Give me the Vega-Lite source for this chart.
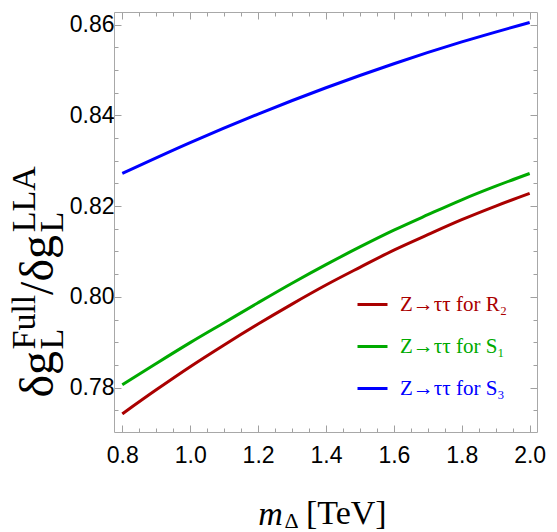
{
  "$schema": "https://vega.github.io/schema/vega-lite/v6.json",
  "width": 423,
  "height": 420,
  "autosize": "none",
  "padding": {"left": 114, "top": 12, "right": 20, "bottom": 100},
  "background": "white",
  "config": {
    "view": {"stroke": null},
    "axis": {
      "grid": false,
      "domainColor": "#a8a8a8",
      "domainWidth": 1,
      "tickColor": "#a0a0a0",
      "tickWidth": 1,
      "labelFont": "Liberation Sans",
      "labelFontSize": 23,
      "labelFontWeight": "normal",
      "labelColor": "black",
      "labelOverlap": false,
      "labelFlush": false,
      "titleColor": "black",
      "titleFont": "Liberation Serif",
      "titleFontWeight": "normal"
    }
  },
  "title": {
    "text": "[TeV]",
    "orient": "bottom",
    "anchor": "start",
    "frame": "group",
    "font": "Liberation Serif",
    "fontSize": 34,
    "fontWeight": "normal",
    "color": "black",
    "baseline": "alphabetic",
    "offset": 0,
    "dx": 192,
    "dy": -7
  },
  "datasets": {
    "curves": [
      {"m_TeV": 0.8, "ratio": 0.7742, "model": "Z→ττ for R₂"},
      {"m_TeV": 0.9, "ratio": 0.7795, "model": "Z→ττ for R₂"},
      {"m_TeV": 1.0, "ratio": 0.7846, "model": "Z→ττ for R₂"},
      {"m_TeV": 1.1, "ratio": 0.7894, "model": "Z→ττ for R₂"},
      {"m_TeV": 1.2, "ratio": 0.7940, "model": "Z→ττ for R₂"},
      {"m_TeV": 1.3, "ratio": 0.7984, "model": "Z→ττ for R₂"},
      {"m_TeV": 1.4, "ratio": 0.8026, "model": "Z→ττ for R₂"},
      {"m_TeV": 1.5, "ratio": 0.8065, "model": "Z→ττ for R₂"},
      {"m_TeV": 1.6, "ratio": 0.8103, "model": "Z→ττ for R₂"},
      {"m_TeV": 1.7, "ratio": 0.8137, "model": "Z→ττ for R₂"},
      {"m_TeV": 1.8, "ratio": 0.8170, "model": "Z→ττ for R₂"},
      {"m_TeV": 1.9, "ratio": 0.8200, "model": "Z→ττ for R₂"},
      {"m_TeV": 2.0, "ratio": 0.8228, "model": "Z→ττ for R₂"},
      {"m_TeV": 0.8, "ratio": 0.7806, "model": "Z→ττ for S₁"},
      {"m_TeV": 0.9, "ratio": 0.7853, "model": "Z→ττ for S₁"},
      {"m_TeV": 1.0, "ratio": 0.7899, "model": "Z→ττ for S₁"},
      {"m_TeV": 1.1, "ratio": 0.7943, "model": "Z→ττ for S₁"},
      {"m_TeV": 1.2, "ratio": 0.7987, "model": "Z→ττ for S₁"},
      {"m_TeV": 1.3, "ratio": 0.8030, "model": "Z→ττ for S₁"},
      {"m_TeV": 1.4, "ratio": 0.8071, "model": "Z→ττ for S₁"},
      {"m_TeV": 1.5, "ratio": 0.8110, "model": "Z→ττ for S₁"},
      {"m_TeV": 1.6, "ratio": 0.8147, "model": "Z→ττ for S₁"},
      {"m_TeV": 1.7, "ratio": 0.8181, "model": "Z→ττ for S₁"},
      {"m_TeV": 1.8, "ratio": 0.8214, "model": "Z→ττ for S₁"},
      {"m_TeV": 1.9, "ratio": 0.8244, "model": "Z→ττ for S₁"},
      {"m_TeV": 2.0, "ratio": 0.8272, "model": "Z→ττ for S₁"},
      {"m_TeV": 0.8, "ratio": 0.8272, "model": "Z→ττ for S₃"},
      {"m_TeV": 1.0, "ratio": 0.8340, "model": "Z→ττ for S₃"},
      {"m_TeV": 1.2, "ratio": 0.8403, "model": "Z→ττ for S₃"},
      {"m_TeV": 1.4, "ratio": 0.8461, "model": "Z→ττ for S₃"},
      {"m_TeV": 1.6, "ratio": 0.8514, "model": "Z→ττ for S₃"},
      {"m_TeV": 1.8, "ratio": 0.8562, "model": "Z→ττ for S₃"},
      {"m_TeV": 2.0, "ratio": 0.8605, "model": "Z→ττ for S₃"}
    ]
  },
  "layer": [
    {
      "data": {"name": "curves"},
      "mark": {"type": "line", "strokeWidth": 3, "interpolate": "monotone"},
      "encoding": {
        "x": {
          "field": "m_TeV",
          "type": "quantitative",
          "scale": {"domain": [0.7756, 2.0216], "nice": false, "zero": false},
          "axis": {
            "orient": "bottom",
            "values": [0.8, 0.85, 0.9, 0.95, 1.0, 1.05, 1.1, 1.15, 1.2, 1.25, 1.3, 1.35, 1.4, 1.45, 1.5, 1.55, 1.6, 1.65, 1.7, 1.75, 1.8, 1.85, 1.9, 1.95, 2.0],
            "labelExpr": "abs(datum.value * 5 - round(datum.value * 5)) < 1e-6 ? format(datum.value, '.1f') : ''",
            "tickSize": {"condition": {"test": "abs(datum.value * 5 - round(datum.value * 5)) < 1e-6", "value": -7}, "value": -4},
            "labelPadding": 19,
            "title": "m",
            "titleFontStyle": "italic",
            "titleFontSize": 34,
            "titleAlign": "center",
            "titleBaseline": "alphabetic",
            "titleX": 156,
            "titleY": 92
          }
        },
        "y": {
          "field": "ratio",
          "type": "quantitative",
          "scale": {"domain": [0.7702, 0.8628], "nice": false, "zero": false},
          "axis": {
            "orient": "left",
            "values": [0.775, 0.78, 0.785, 0.79, 0.795, 0.8, 0.805, 0.81, 0.815, 0.82, 0.825, 0.83, 0.835, 0.84, 0.845, 0.85, 0.855, 0.86],
            "labelExpr": "abs(datum.value * 50 - round(datum.value * 50)) < 1e-6 ? format(datum.value, '.2f') : ''",
            "tickSize": {"condition": {"test": "abs(datum.value * 50 - round(datum.value * 50)) < 1e-6", "value": -7}, "value": -4},
            "labelPadding": 7,
            "title": "δg\u2003\u2006/δg",
            "titleFontSize": 48,
            "titleAngle": 270,
            "titleAnchor": "start",
            "titleAlign": "left",
            "titleBaseline": "alphabetic",
            "titleX": -62,
            "titleY": 385
          }
        },
        "color": {
          "field": "model",
          "type": "nominal",
          "scale": {
            "domain": ["Z→ττ for R₂", "Z→ττ for S₁", "Z→ττ for S₃"],
            "range": ["#aa0000", "#00aa00", "#0000ff"]
          },
          "legend": {
            "orient": "none",
            "legendX": 242,
            "legendY": 276,
            "title": null,
            "padding": 0,
            "symbolType": "stroke",
            "symbolSize": 900,
            "symbolStrokeWidth": 3,
            "labelFont": "Liberation Serif",
            "labelFontSize": 21,
            "labelOffset": 11,
            "rowPadding": 15,
            "encode": {
              "labels": {"update": {"fill": {"scale": "color", "field": "value"}}}
            }
          }
        }
      }
    },
    {
      "data": {"name": "curves"},
      "mark": {"type": "line", "opacity": 0},
      "encoding": {
        "x": {
          "field": "m_TeV",
          "type": "quantitative",
          "scale": {"domain": [0.7756, 2.0216], "nice": false, "zero": false},
          "axis": {
            "orient": "top",
            "values": [0.8, 0.85, 0.9, 0.95, 1.0, 1.05, 1.1, 1.15, 1.2, 1.25, 1.3, 1.35, 1.4, 1.45, 1.5, 1.55, 1.6, 1.65, 1.7, 1.75, 1.8, 1.85, 1.9, 1.95, 2.0],
            "labels": false,
            "tickSize": {"condition": {"test": "abs(datum.value * 5 - round(datum.value * 5)) < 1e-6", "value": -7}, "value": -4},
            "title": "Δ",
            "titleFontSize": 22,
            "titleAlign": "center",
            "titleBaseline": "alphabetic",
            "titleX": 177,
            "titleY": 515
          }
        },
        "y": {
          "field": "ratio",
          "type": "quantitative",
          "scale": {"domain": [0.7702, 0.8628], "nice": false, "zero": false},
          "axis": {
            "orient": "right",
            "values": [0.775, 0.78, 0.785, 0.79, 0.795, 0.8, 0.805, 0.81, 0.815, 0.82, 0.825, 0.83, 0.835, 0.84, 0.845, 0.85, 0.855, 0.86],
            "labels": false,
            "tickSize": {"condition": {"test": "abs(datum.value * 50 - round(datum.value * 50)) < 1e-6", "value": -7}, "value": -4},
            "title": ["Full\u2003\u2002\u2005\u200ALLA", "L\u2003\u2003\u2002\u2004L"],
            "titleFontSize": 34,
            "titleLineHeight": 28,
            "titleAngle": 270,
            "titleAnchor": "start",
            "titleAlign": "left",
            "titleBaseline": "alphabetic",
            "titleX": -503,
            "titleY": 337
          }
        }
      }
    }
  ],
  "resolve": {"axis": {"x": "independent", "y": "independent"}}
}
